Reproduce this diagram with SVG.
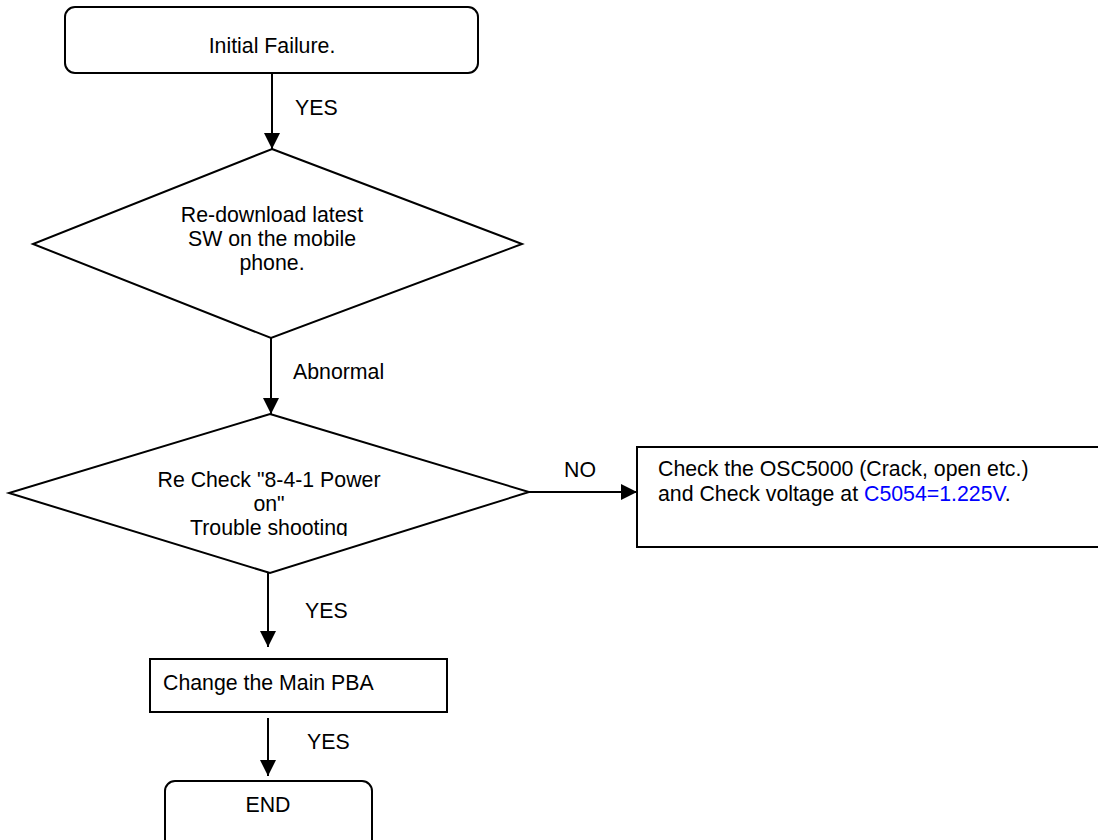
<svg xmlns="http://www.w3.org/2000/svg" width="1098" height="840" viewBox="0 0 1098 840">
<style>
.shape{fill:#fff;stroke:#000;stroke-width:2}
.t{font-family:"Liberation Sans",Arial,sans-serif;font-size:21.3px;fill:#000}
.c{text-anchor:middle}
.conn{stroke:#000;stroke-width:2;fill:none}
.blue{fill:#0000ff}
</style>
<defs>
<marker id="arr" markerUnits="userSpaceOnUse" markerWidth="16" markerHeight="16" viewBox="0 0 15 15" refX="15" refY="7.5" orient="auto">
<path d="M0,0 L15,7.5 L0,15 z" fill="#000"/>
</marker>
<clipPath id="clipD2"><rect x="0" y="400" width="560" height="136"/></clipPath>
</defs>
<rect width="1098" height="840" fill="#fff"/>
<g id="connectors">
<line class="conn" x1="272" y1="73" x2="272" y2="149" marker-end="url(#arr)"/>
<line class="conn" x1="271" y1="338" x2="271" y2="414" marker-end="url(#arr)"/>
<line class="conn" x1="529" y1="492" x2="637" y2="492" marker-end="url(#arr)"/>
<line class="conn" x1="268" y1="573" x2="268" y2="647" marker-end="url(#arr)"/>
<line class="conn" x1="268" y1="718" x2="268" y2="776" marker-end="url(#arr)"/>
<text class="t" x="295" y="115">YES</text>
<text class="t" x="293" y="379">Abnormal</text>
<text class="t" x="564" y="477">NO</text>
<text class="t" x="305" y="618">YES</text>
<text class="t" x="307" y="749">YES</text>
</g>
<g id="start">
<rect class="shape" x="65" y="7" width="413" height="66" rx="10" ry="10"/>
<text class="t c" x="272" y="53">Initial Failure.</text>
</g>
<g id="redownload">
<polygon class="shape" points="272,149 522,244 271,338 33,244"/>
<text class="t c" x="272" y="222">Re-download latest</text>
<text class="t c" x="272" y="246">SW on the mobile</text>
<text class="t c" x="272" y="270">phone.</text>
</g>
<g id="recheck">
<polygon class="shape" points="270,414 529,492 270,573 9,493"/>
<g clip-path="url(#clipD2)">
<text class="t c" x="269" y="487">Re Check "8-4-1 Power</text>
<text class="t c" x="269" y="511">on"</text>
<text class="t c" x="269" y="535">Trouble shooting</text>
</g>
</g>
<g id="checkosc">
<rect class="shape" x="637" y="447" width="480" height="100"/>
<text class="t" x="658" y="476">Check the OSC5000 (Crack, open etc.)</text>
<text class="t" x="658" y="501">and Check voltage at <tspan class="blue">C5054=1.225V</tspan>.</text>
</g>
<g id="changepba">
<rect class="shape" x="150" y="659" width="297" height="53"/>
<text class="t" x="163" y="690">Change the Main PBA</text>
</g>
<g id="end">
<rect class="shape" x="165" y="781" width="207" height="70" rx="10" ry="10"/>
<text class="t c" x="268" y="812">END</text>
</g>
</svg>
